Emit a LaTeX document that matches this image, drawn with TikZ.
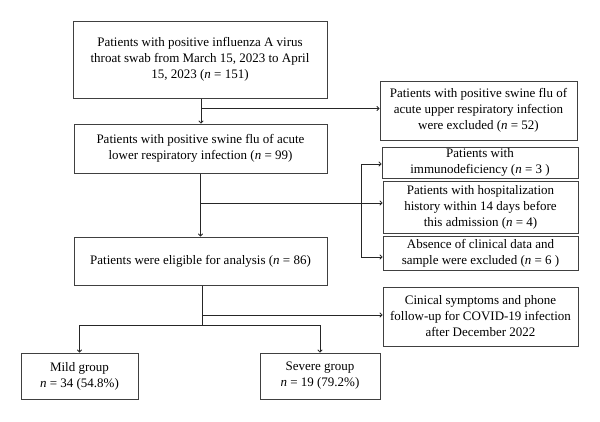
\documentclass[tikz,border=0pt]{standalone}
\usepackage{fontspec}
\setmainfont{Liberation Serif}
\usetikzlibrary{arrows.meta}
\begin{document}
\begin{tikzpicture}[x=1pt,y=-1pt,
  box/.style={draw=black!75,line width=1pt,align=center,inner sep=0pt,
    font=\fontsize{13}{16}\selectfont},
  conn/.style={draw=black!85,line width=0.8pt},
  arr/.style={conn,-{To[length=3pt,width=5pt]}}]
\useasboundingbox (0,0) rectangle (600,421);
\node[box,minimum width=254,minimum height=77] (b1) at (200,59.5)
  {Patients with positive influenza A virus\\throat swab from March 15, 2023 to April\\15, 2023 (\textit{n} = 151)};
\node[box,minimum width=253,minimum height=49] (b2) at (200.5,148.5)
  {Patients with positive swine flu of acute\\lower respiratory infection (\textit{n} = 99)};
\node[box,minimum width=253,minimum height=48] (b3) at (200.5,261)
  {Patients were eligible for analysis (\textit{n} = 86)};
\node[box,minimum width=197,minimum height=59] (e1) at (478.5,110.5)
  {Patients with positive swine flu of\\acute upper respiratory infection\\were excluded (\textit{n} = 52)};
\node[box,minimum width=196,minimum height=31] (e2) at (480,162.5)
  {Patients with\\immunodeficiency (\textit{n} = 3 )};
\node[box,minimum width=195,minimum height=52] (e3) at (480.5,207)
  {Patients with hospitalization\\history within 14 days before\\this admission (\textit{n} = 4)};
\node[box,minimum width=195,minimum height=34] (e4) at (480.5,253)
  {Absence of clinical data and\\sample were excluded (\textit{n} = 6 )};
\node[box,minimum width=195,minimum height=59] (cv) at (480.5,316.5)
  {Cinical symptoms and phone\\follow-up for COVID-19 infection\\after December 2022};
\node[box,minimum width=117,minimum height=46] (m) at (79.5,376)
  {Mild group\\\textit{n} = 34 (54.8\%)};
\node[box,minimum width=120,minimum height=46] (s) at (320,376)
  {Severe group\\\textit{n} = 19 (79.2\%)};
% connectors
\coordinate (p1) at (201,108.5);
\draw[arr] (b1.south -| p1) -- (b2.north -| p1);
\draw[arr] (p1) -- (e1.west |- p1);
\coordinate (p2) at (200.5,203);
\coordinate (v1) at (361,164);
\coordinate (v2) at (361,257);
\draw[arr] (b2.south -| p2) -- (b3.north -| p2);
\draw[arr] (p2) -- (e3.west |- p2);
\draw[conn] (v1) -- (v2);
\draw[arr] (v1) -- (e2.west |- v1);
\draw[arr] (v2) -- (e4.west |- v2);
\coordinate (p3) at (202,315);
\coordinate (p4) at (202,325);
\draw[conn] (b3.south -| p3) -- (p4);
\draw[arr] (p3) -- (cv.west |- p3);
\draw[arr] (p4) -| (m.north);
\draw[arr] (p4) -| (s.north);
\end{tikzpicture}
\end{document}
